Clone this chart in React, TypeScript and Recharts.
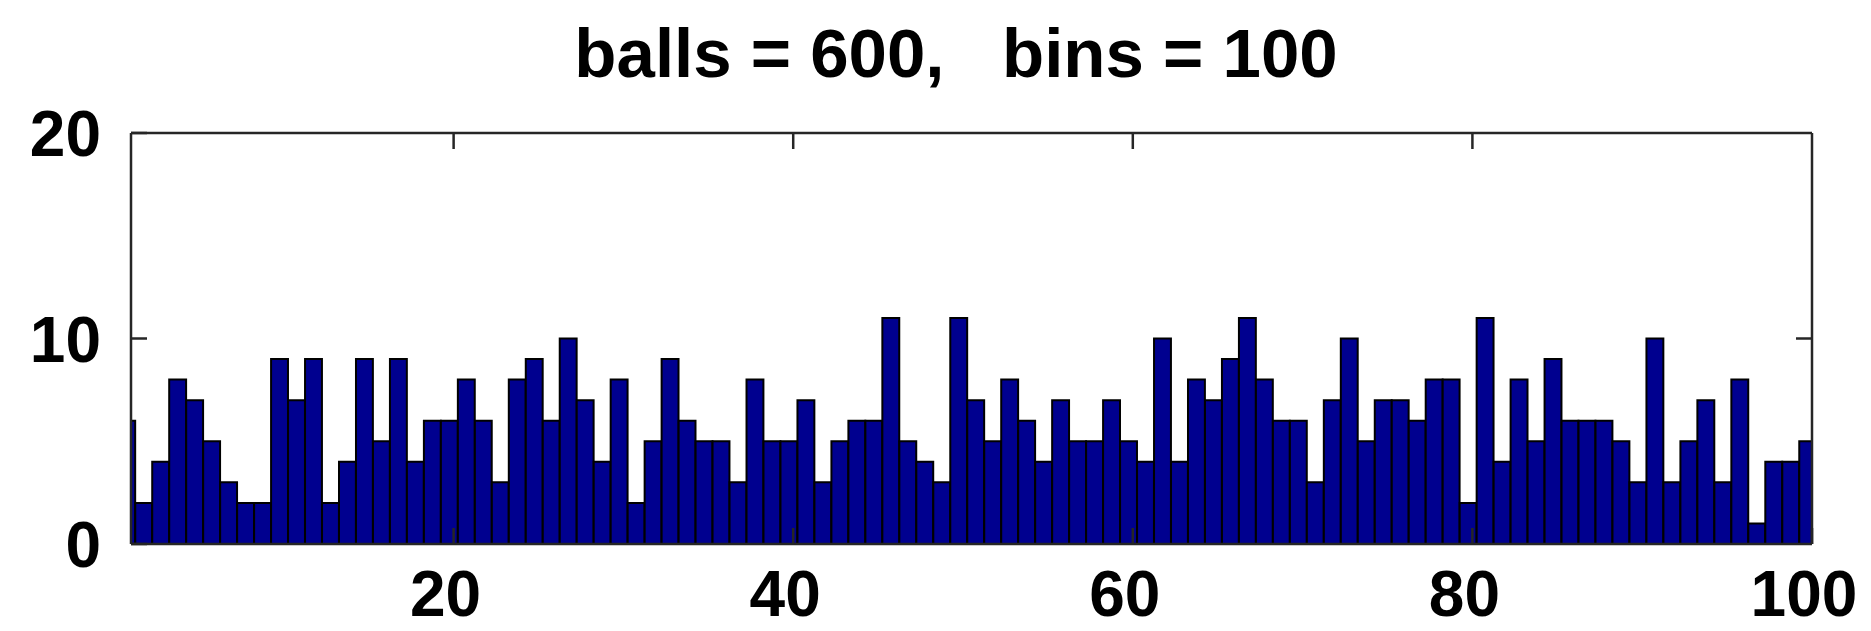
import React from 'react';
import { BarChart, Bar, XAxis, YAxis } from 'recharts';

// Histogram counts per bin (600 balls thrown into 100 bins)
const binCounts: number[] = [
  6, 2, 4, 8, 7, 5, 3, 2, 2, 9,
  7, 9, 2, 4, 9, 5, 9, 4, 6, 6,
  8, 6, 3, 8, 9, 6, 10, 7, 4, 8,
  2, 5, 9, 6, 5, 5, 3, 8, 5, 5,
  7, 3, 5, 6, 6, 11, 5, 4, 3, 11,
  7, 5, 8, 6, 4, 7, 5, 5, 7, 5,
  4, 10, 4, 8, 7, 9, 11, 8, 6, 6,
  3, 7, 10, 5, 7, 7, 6, 8, 8, 2,
  11, 4, 8, 5, 9, 6, 6, 6, 5, 3,
  10, 3, 5, 7, 3, 8, 1, 4, 4, 5,
];

// Bin centres on the x axis (bin k covers [k - 0.75, k + 0.25])
const binCenters: number[] = binCounts.map((_, i) => i + 0.75);

const xTicks: number[] = [20, 40, 60, 80, 100];
const xTopTicks: number[] = [20, 40, 60, 80];
const yTicks: number[] = [0, 10, 20];
const yRightTicks: number[] = [10];
const xDomain: [number, number] = [1, 100];
const yDomain: [number, number] = [0, 20];

const title = 'balls = 600,   bins = 100';

const data = binCenters.map((center, i) => ({ center, count: binCounts[i] }));

const W = 1871;
const H = 631;
const plotLeft = 131;
const plotRight = 1812;
const plotTop = 133;
const plotBottom = 544;
const plotWidth = plotRight - plotLeft;
const barWidth = plotWidth / (xDomain[1] - xDomain[0]) - 0.08;

const FONT = '"Liberation Sans", Arial, Helvetica, sans-serif';
const AXIS = '#262626';

const BottomTick = (props: any) => {
  const { x, y, payload } = props;
  return (
    <text
      x={x - 8}
      y={y}
      textAnchor="middle"
      fontFamily={FONT}
      fontWeight="bold"
      fontSize={64}
      fill="#000"
    >
      {payload.value}
    </text>
  );
};

const LeftTick = (props: any) => {
  const { x, y, payload } = props;
  return (
    <text
      x={x}
      y={y}
      dy={23}
      textAnchor="end"
      fontFamily={FONT}
      fontWeight="bold"
      fontSize={64}
      fill="#000"
    >
      {payload.value}
    </text>
  );
};

// Unlabelled tick for the top and right box edges
const BlankTick = () => <g />;

export default function App() {
  return (
    <div style={{ position: 'absolute', left: 0, top: 0, width: W, height: H, background: '#fff' }}>
      <svg
        width={W}
        height={H}
        style={{ position: 'absolute', left: 0, top: 0, pointerEvents: 'none' }}
      >
        <text
          x={956}
          y={77}
          textAnchor="middle"
          fontFamily={FONT}
          fontWeight="bold"
          fontSize={69}
          fill="#000"
          style={{ whiteSpace: 'pre' }}
        >
          {title}
        </text>
      </svg>
      <div style={{ position: 'absolute', left: 0, top: 0 }}>
        <BarChart
          width={W}
          height={H}
          data={data}
          margin={{ top: plotTop - 1, right: W - plotRight - 1, bottom: 0, left: 0 }}
          barCategoryGap={0}
          barGap={0}
        >
          <XAxis
            xAxisId="bottom"
            dataKey="center"
            type="number"
            domain={xDomain}
            allowDataOverflow
            ticks={xTicks}
            interval={0}
            height={H - plotBottom}
            axisLine={{ stroke: AXIS, strokeWidth: 2.5 }}
            tickLine={{ stroke: AXIS, strokeWidth: 2.5 }}
            tickSize={-16}
            tickMargin={88}
            tick={<BottomTick />}
          />
          <XAxis
            xAxisId="top"
            orientation="top"
            dataKey="center"
            type="number"
            domain={xDomain}
            allowDataOverflow
            ticks={xTopTicks}
            interval={0}
            height={1}
            axisLine={{ stroke: AXIS, strokeWidth: 2.5 }}
            tickLine={{ stroke: AXIS, strokeWidth: 2.5 }}
            tickSize={-16}
            tick={<BlankTick />}
          />
          <YAxis
            yAxisId="left"
            type="number"
            domain={yDomain}
            allowDataOverflow
            ticks={yTicks}
            interval={0}
            width={plotLeft}
            axisLine={{ stroke: AXIS, strokeWidth: 2.5 }}
            tickLine={{ stroke: AXIS, strokeWidth: 2.5 }}
            tickSize={-16}
            tickMargin={46}
            tick={<LeftTick />}
          />
          <YAxis
            yAxisId="right"
            orientation="right"
            dataKey="count"
            type="number"
            domain={yDomain}
            allowDataOverflow
            ticks={yRightTicks}
            interval={0}
            width={1}
            axisLine={{ stroke: AXIS, strokeWidth: 2.5 }}
            tickLine={{ stroke: AXIS, strokeWidth: 2.5 }}
            tickSize={-16}
            tick={<BlankTick />}
          />
          <Bar
            xAxisId="bottom"
            yAxisId="left"
            dataKey="count"
            fill="#00008F"
            stroke="#000"
            strokeWidth={2}
            barSize={barWidth}
            isAnimationActive={false}
          />
        </BarChart>
      </div>
    </div>
  );
}
